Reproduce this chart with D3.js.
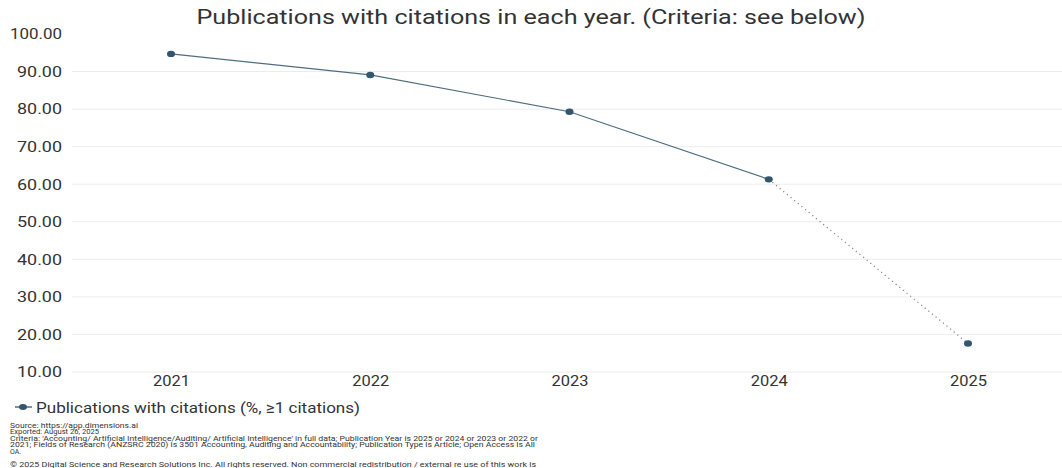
<!DOCTYPE html>
<html><head><meta charset="utf-8">
<script src="https://cdn.jsdelivr.net/npm/d3@7"></script>
<style>body{margin:0;background:#fff}svg{display:block;font-family:Roboto,"Noto Sans",sans-serif}</style>
</head><body><svg id="c" width="1062" height="468"></svg>
<script>
const years = ["2021","2022","2023","2024","2025"];
const values = [94.7, 89.1, 79.3, 61.3, 17.6];
const yTicks = [10,20,30,40,50,60,70,80,90,100];
const title = "Publications with citations in each year. (Criteria: see below)";
const seriesName = "Publications with citations (%, \u22651 citations)";
const footer = [
  "Source: https://app.dimensions.ai",
  "Exported: August 26, 2025",
  "Criteria: 'Accounting/ Artificial Intelligence/Auditing/ Artificial Intelligence' in full data; Publication Year is 2025 or 2024 or 2023 or 2022 or",
  "2021; Fields of Research (ANZSRC 2020) is 3501 Accounting, Auditing and Accountability; Publication Type is Article; Open Access is All",
  "OA.",
  "",
  "\u00a9 2025 Digital Science and Research Solutions Inc. All rights reserved. Non commercial redistribution / external re use of this work is"
];

const svg = d3.select("#c");
const x = d3.scalePoint().domain(years).range([171, 968]);
const y = d3.scaleLinear().domain([10, 100]).range([372, 34]);

svg.append("text").attr("x", 531).attr("y", 24).attr("text-anchor", "middle")
  .attr("font-size", 20).attr("fill", "#333").attr("textLength", 669).attr("lengthAdjust", "spacingAndGlyphs").text(title);

// grid
svg.append("g").selectAll("line").data(yTicks.filter(d => d < 100)).join("line")
  .attr("x1", 72).attr("x2", 1062).attr("y1", d => y(d)).attr("y2", d => y(d))
  .attr("stroke", "#ececec").attr("stroke-width", 1);

// y axis
const yAxis = svg.append("g").attr("transform", "translate(64,0)")
  .call(d3.axisLeft(y).tickValues(yTicks).tickFormat(d3.format(".2f")).tickSize(0).tickPadding(2));
yAxis.select(".domain").remove();
yAxis.selectAll("text").attr("font-size", 15).attr("fill", "#333").attr("font-family", "Roboto, sans-serif")
  .attr("textLength", d => d === 100 ? 52 : 45).attr("lengthAdjust", "spacingAndGlyphs");

// x axis
const xAxis = svg.append("g").attr("transform", "translate(0,372)")
  .call(d3.axisBottom(x).tickSize(0).tickPadding(3));
xAxis.select(".domain").remove();
xAxis.selectAll("text").attr("font-size", 15).attr("fill", "#333").attr("font-family", "Roboto, sans-serif")
  .attr("textLength", 37).attr("lengthAdjust", "spacingAndGlyphs");

const pts = years.map((yr, i) => [x(yr), y(values[i])]);
const lineColor = "#4f6d7e", dotColor = "#33566f";
svg.append("path").attr("d", d3.line()(pts.slice(0, 4))).attr("fill", "none")
  .attr("stroke", lineColor).attr("stroke-width", 1.2);
svg.append("path").attr("d", d3.line()(pts.slice(3))).attr("fill", "none")
  .attr("stroke", "#9a7d80").attr("stroke-width", 1.2).attr("stroke-dasharray", "1.2,3.5");
svg.append("g").selectAll("ellipse").data(pts).join("ellipse")
  .attr("cx", d => d[0]).attr("cy", d => d[1]).attr("rx", 4).attr("ry", 3.2).attr("fill", dotColor);

// legend
const lg = svg.append("g").attr("transform", "translate(0,407)");
lg.append("line").attr("x1", 15).attr("x2", 32).attr("y1", 0).attr("y2", 0).attr("stroke", lineColor).attr("stroke-width", 1.5);
lg.append("ellipse").attr("cx", 23).attr("cy", 0).attr("rx", 4).attr("ry", 3).attr("fill", dotColor);
lg.append("text").attr("x", 36).attr("y", 5.5).attr("font-size", 15.5).attr("fill", "#333")
  .attr("textLength", 324).attr("lengthAdjust", "spacingAndGlyphs").text(seriesName);

// footer
const lens = [128, 89, 528, 525, 11, 0, 526];
svg.append("g").selectAll("text").data(footer).join("text")
  .attr("x", 10).attr("y", (d, i) => 427.5 + i * 6.5)
  .attr("font-size", 7).attr("fill", "#333")
  .each(function(d, i) { if (d) d3.select(this).attr("textLength", lens[i]).attr("lengthAdjust", "spacingAndGlyphs"); })
  .text(d => d);
</script></body></html>
